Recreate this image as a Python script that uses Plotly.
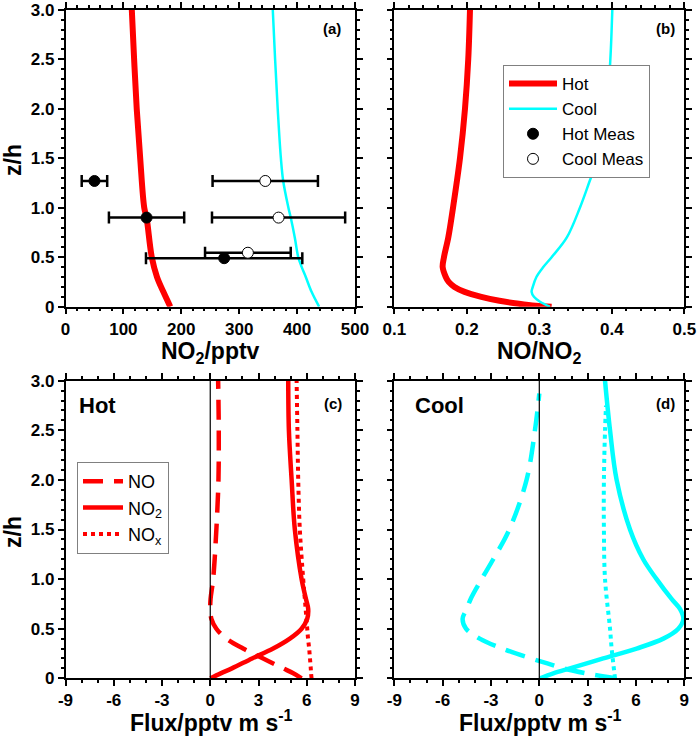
import plotly.graph_objects as go
from plotly.subplots import make_subplots

# ---- (a) NO2 mixing ratio profiles ----
z_a_hot = [0, 0.15, 0.3, 0.5, 0.9, 1.0, 1.5, 2.0, 2.5, 3.0]
no2_hot = [181, 169, 158, 149, 140, 136, 129, 123, 118.5, 114.5]
z_a_cool = [0, 0.15, 0.3, 0.4, 0.5, 0.7, 0.9, 1.0, 1.27, 1.5, 2.0, 2.5, 3.0]
no2_cool = [438, 425, 415, 408, 402, 396, 389, 385, 376, 372, 366.5, 362, 358]

# measurements (mean +/- spread)
z_meas_hot = [1.27, 0.90, 0.49]
no2_meas_hot = [50, 140, 274]
err_meas_hot = [22, 65, 135]
z_meas_cool = [1.27, 0.90, 0.545]
no2_meas_cool = [345, 368, 315]
err_meas_cool = [91, 115, 74]

# ---- (b) NO/NO2 ratio ----
z_b_hot = [0, 0.01, 0.03, 0.06, 0.1, 0.15, 0.2, 0.25, 0.3, 0.4, 0.5, 0.7, 1.0, 1.5, 2.0, 2.5, 3.0]
ratio_hot = [0.317, 0.295, 0.272, 0.245, 0.220, 0.197, 0.183, 0.175, 0.171, 0.1667, 0.1685,
             0.1745, 0.181, 0.1906, 0.1975, 0.202, 0.2044]
z_b_cool = [0, 0.05, 0.1, 0.15, 0.2, 0.3, 0.4, 0.5, 0.7, 1.0, 1.28, 1.5, 2.0, 2.5, 3.0]
ratio_cool = [0.3147, 0.301, 0.2926, 0.2894, 0.291, 0.296, 0.3055, 0.317, 0.338, 0.356, 0.370,
              0.381, 0.393, 0.398, 0.4007]

# ---- (c) Hot fluxes ----
z_c = [0, 0.05, 0.1, 0.2, 0.3, 0.4, 0.5, 0.6, 0.7, 0.8, 1.0, 1.5, 2.0, 2.5, 3.0]
flux_no_hot = [5.68, 5.16, 4.54, 3.29, 2.04, 1.0, 0.38, 0.07, 0.0, 0.02, 0.18, 0.38, 0.51, 0.53, 0.49]
flux_no2_hot = [0.01, 0.65, 1.35, 2.6, 3.91, 4.95, 5.68, 6.03, 6.09, 5.95, 5.68, 5.26, 5.06, 4.89, 4.85]
flux_nox_hot = [6.30, 6.27, 6.25, 6.20, 6.15, 6.08, 6.03, 5.98, 5.93, 5.88, 5.78, 5.57, 5.47, 5.42, 5.37]

# ---- (d) Cool fluxes ----
z_d = [0, 0.05, 0.1, 0.15, 0.2, 0.3, 0.4, 0.5, 0.6, 0.7, 0.8, 1.0, 1.2, 1.5, 2.0, 2.5, 2.87]
flux_no_cool = [4.70, 2.9, 1.5, 0.5, -0.5, -2.3, -3.7, -4.55, -4.76, -4.5, -4.26, -3.58, -2.86,
                -1.86, -0.79, -0.27, 0.0]
z_d2 = [0, 0.05, 0.1, 0.2, 0.3, 0.4, 0.5, 0.6, 0.7, 0.8, 1.0, 1.2, 1.5, 2.0, 2.5, 3.0]
flux_no2_cool = [0.04, 0.87, 1.90, 3.97, 6.04, 7.70, 8.63, 8.94, 8.73, 8.21, 7.28, 6.45, 5.63,
                 4.80, 4.39, 4.08]
z_d3 = [0, 0.3, 0.5, 1.0, 1.5, 2.0, 2.5, 2.75]
flux_nox_cool = [4.70, 4.49, 4.39, 4.08, 4.01, 4.01, 4.08, 4.14]

# tick labels
z_ticks = [0, 0.5, 1.0, 1.5, 2.0, 2.5, 3.0]
z_ticktext = ['0', '0.5', '1.0', '1.5', '2.0', '2.5', '3.0']
no2_ticks = [0, 100, 200, 300, 400, 500]
no2_ticktext = ['0', '100', '200', '300', '400', '500']
ratio_ticks = [0.1, 0.2, 0.3, 0.4, 0.5]
ratio_ticktext = ['0.1', '0.2', '0.3', '0.4', '0.5']
flux_ticks = [-9, -6, -3, 0, 3, 6, 9]
flux_ticktext = ['-9', '-6', '-3', '0', '3', '6', '9']


def bold(labels):
    return ['<b>%s</b>' % s for s in labels]


RED = '#ff0000'
CYAN = '#00ffff'
FONT = 'Liberation Sans, Arial, sans-serif'
W, H = 697, 736


def px(x):
    return x / W


def py(y):
    return 1 - y / H


fig = make_subplots(rows=2, cols=2)

# (a)
fig.add_trace(go.Scatter(x=no2_hot, y=z_a_hot, mode='lines', name='Hot', line_shape='spline',
                         line=dict(color=RED, width=6)), row=1, col=1)
fig.add_trace(go.Scatter(x=no2_cool, y=z_a_cool, mode='lines', name='Cool', line_shape='spline',
                         line=dict(color=CYAN, width=2.5)), row=1, col=1)
fig.add_trace(go.Scatter(x=no2_meas_hot, y=z_meas_hot, mode='markers', name='Hot Meas',
                         marker=dict(color='black', size=11, line=dict(color='black', width=1)),
                         error_x=dict(type='data', array=err_meas_hot, color='black',
                                      thickness=2.5, width=6)), row=1, col=1)
fig.add_trace(go.Scatter(x=no2_meas_cool, y=z_meas_cool, mode='markers', name='Cool Meas',
                         marker=dict(color='white', size=11, line=dict(color='black', width=1)),
                         error_x=dict(type='data', array=err_meas_cool, color='black',
                                      thickness=2.5, width=6)), row=1, col=1)

# (b)
fig.add_trace(go.Scatter(x=ratio_hot, y=z_b_hot, mode='lines', showlegend=False, line_shape='spline',
                         line=dict(color=RED, width=6)), row=1, col=2)
fig.add_trace(go.Scatter(x=ratio_cool, y=z_b_cool, mode='lines', showlegend=False, line_shape='spline',
                         line=dict(color=CYAN, width=2.5)), row=1, col=2)

# (c)
fig.add_trace(go.Scatter(x=flux_no_hot, y=z_c, mode='lines', name='NO', legend='legend2',
                         line_shape='spline', line=dict(color=RED, width=4.5, dash='20px,11px')),
              row=2, col=1)
fig.add_trace(go.Scatter(x=flux_no2_hot, y=z_c, mode='lines', name='NO<sub>2</sub>', legend='legend2',
                         line_shape='spline', line=dict(color=RED, width=4.5)), row=2, col=1)
fig.add_trace(go.Scatter(x=flux_nox_hot, y=z_c, mode='lines', name='NO<sub>x</sub>', legend='legend2',
                         line_shape='spline', line=dict(color=RED, width=4, dash='dot')), row=2, col=1)

# (d)
fig.add_trace(go.Scatter(x=flux_no_cool, y=z_d, mode='lines', showlegend=False, line_shape='spline',
                         line=dict(color=CYAN, width=4.5, dash='20px,11px')), row=2, col=2)
fig.add_trace(go.Scatter(x=flux_no2_cool, y=z_d2, mode='lines', showlegend=False, line_shape='spline',
                         line=dict(color=CYAN, width=4.5)), row=2, col=2)
fig.add_trace(go.Scatter(x=flux_nox_cool, y=z_d3, mode='lines', showlegend=False, line_shape='spline',
                         line=dict(color=CYAN, width=4, dash='dot')), row=2, col=2)

left_dom = [px(65.5), px(355)]
right_dom = [px(394.3), px(684.3)]
top_dom = [py(306.7), py(9.7)]
bot_dom = [py(678.3), py(380.7)]

common = dict(showline=True, linecolor='black', linewidth=1.5, mirror='allticks',
              ticks='outside', ticklen=6, tickwidth=1.5, tickcolor='black',
              showgrid=False, zeroline=False, automargin=False, ticklabeloverflow='allow',
              tickfont=dict(family=FONT, size=17, color='black'))

fig.update_layout(
    xaxis=dict(domain=left_dom, range=[0, 500], tickvals=no2_ticks, ticktext=bold(no2_ticktext),
               minor=dict(dtick=20, ticks='outside', ticklen=3, tickcolor='black'), **common),
    yaxis=dict(domain=top_dom, range=[0, 3], tickvals=z_ticks, ticktext=bold(z_ticktext),
               minor=dict(dtick=0.1, ticks='outside', ticklen=3, tickcolor='black'), **common),
    xaxis2=dict(domain=right_dom, range=[0.1, 0.5], tickvals=ratio_ticks, ticktext=bold(ratio_ticktext),
                minor=dict(dtick=0.02, ticks='outside', ticklen=3, tickcolor='black'), **common),
    yaxis2=dict(domain=top_dom, range=[0, 3], tickvals=z_ticks, showticklabels=False,
                minor=dict(dtick=0.1, ticks='outside', ticklen=3, tickcolor='black'), **common),
    xaxis3=dict(domain=left_dom, range=[-9, 9], tickvals=flux_ticks, ticktext=bold(flux_ticktext),
                minor=dict(dtick=1, ticks='outside', ticklen=3, tickcolor='black'), **common),
    yaxis3=dict(domain=bot_dom, range=[0, 3], tickvals=z_ticks, ticktext=bold(z_ticktext),
                minor=dict(dtick=0.1, ticks='outside', ticklen=3, tickcolor='black'), **common),
    xaxis4=dict(domain=right_dom, range=[-9, 9], tickvals=flux_ticks, ticktext=bold(flux_ticktext),
                minor=dict(dtick=1, ticks='outside', ticklen=3, tickcolor='black'), **common),
    yaxis4=dict(domain=bot_dom, range=[0, 3], tickvals=z_ticks, showticklabels=False,
                minor=dict(dtick=0.1, ticks='outside', ticklen=3, tickcolor='black'), **common),
)

# black vertical line at zero flux
fig.add_vline(x=0, line=dict(color='black', width=1.2), row=2, col=1)
fig.add_vline(x=0, line=dict(color='black', width=1.2), row=2, col=2)

title_font = dict(family=FONT, size=23, color='black')
label_font = dict(family=FONT, size=15, color='black')
big_font = dict(family=FONT, size=22, color='black')
annots = [
    dict(text='<b>NO<sub>2</sub>/pptv</b>', x=px(210), y=py(352), font=title_font),
    dict(text='<b>NO/NO<sub>2</sub></b>', x=px(539), y=py(352), font=title_font),
    dict(text='<b>Flux/pptv m s<sup>-1</sup></b>', x=px(212), y=py(721), font=title_font),
    dict(text='<b>Flux/pptv m s<sup>-1</sup></b>', x=px(540), y=py(721), font=title_font),
    dict(text='<b>z/h</b>', x=px(13), y=py(160), textangle=-90, font=title_font),
    dict(text='<b>z/h</b>', x=px(13), y=py(532), textangle=-90, font=title_font),
    dict(text='<b>(a)</b>', x=px(332), y=py(28), font=label_font),
    dict(text='<b>(b)</b>', x=px(665), y=py(28), font=label_font),
    dict(text='<b>(c)</b>', x=px(333), y=py(403), font=label_font),
    dict(text='<b>(d)</b>', x=px(665), y=py(403), font=label_font),
    dict(text='<b>Hot</b>', x=px(77), y=py(406), xanchor='left', font=big_font),
    dict(text='<b>Cool</b>', x=px(413), y=py(406), xanchor='left', font=big_font),
]
for a in annots:
    a.setdefault('xanchor', 'center')
    a.update(xref='paper', yref='paper', yanchor='middle', showarrow=False)
fig.update_layout(annotations=annots)

fig.update_layout(
    width=W, height=H,
    margin=dict(l=0, r=0, t=0, b=0),
    paper_bgcolor='white', plot_bgcolor='white',
    font=dict(family=FONT, color='black'),
    legend=dict(x=px(503), y=py(65), xanchor='left', yanchor='top',
                bgcolor='white', bordercolor='#808080', borderwidth=1,
                font=dict(family=FONT, size=17, color='black'), itemwidth=48,
                tracegroupgap=0),
    legend2=dict(x=px(77), y=py(462), xanchor='left', yanchor='top',
                 bgcolor='white', bordercolor='#808080', borderwidth=1,
                 font=dict(family=FONT, size=18, color='black'), itemwidth=40,
                 tracegroupgap=0),
)

# drop the default body margin so the figure fills the window exactly
fig.write_html("out.html", config={'displayModeBar': False},
               post_script="document.body.style.margin='0';")
